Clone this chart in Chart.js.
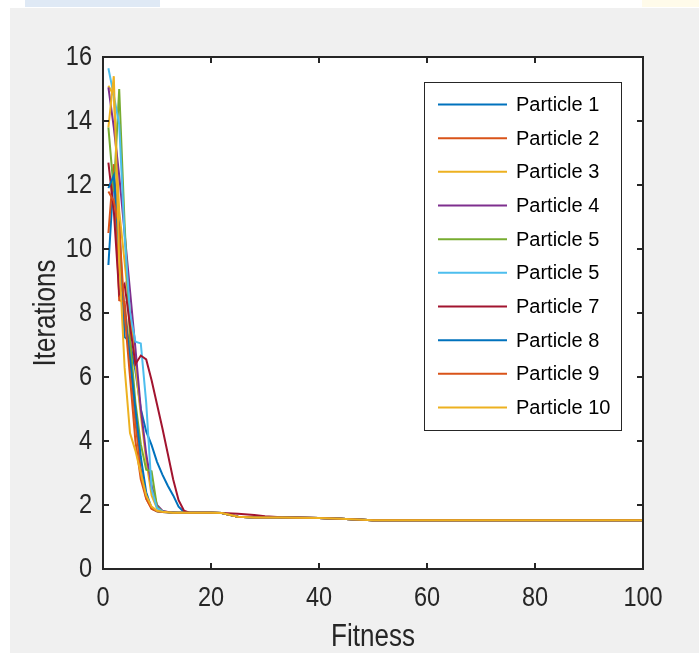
<!DOCTYPE html>
<html>
<head>
<meta charset="utf-8">
<script src="https://cdn.jsdelivr.net/npm/chart.js@4.4.1/dist/chart.umd.min.js"></script>
<style>
  html, body { margin:0; padding:0; background:#ffffff; width:699px; height:653px; overflow:hidden; }
  #bg { position:absolute; left:10px; top:8px; width:689px; height:645px; background:#f0f0f0; }
  #smudge1 { position:absolute; left:25px; top:0; width:135px; height:7px; background:#dfe9f5; }
  #smudge2 { position:absolute; left:642px; top:0; width:57px; height:7px; background:#fffbea; }
  #wrap { position:absolute; left:0; top:0; width:699px; height:653px; }
</style>
</head>
<body>
<div id="bg"></div>
<div id="smudge1"></div>
<div id="smudge2"></div>
<div id="wrap"><canvas id="c" width="699" height="653"></canvas></div>
<script>
// ---- data ----
const xValues = [1,2,3,4,5,6,7,8,9,10,11,12,13,14,15,16,18,20,22,25,28,30,33,36,40,44,47,50,60,70,80,90,100];
const tailCommon = [1.76,1.76,1.75,1.63,1.61,1.61,1.61,1.60,1.59,1.57,1.55,1.52,1.52,1.52,1.52,1.52,1.52];
const tailP7     = [1.76,1.76,1.75,1.73,1.69,1.65,1.62,1.61,1.59,1.57,1.55,1.52,1.52,1.52,1.52,1.52,1.52];
const p1Head  = [9.5,12.3,10.8,7.25,7.1,6.2,5.0,4.3,3.87,3.35,2.95,2.6,2.3,1.95,1.78,1.76];
const p2Head  = [10.5,12.65,8.4,8.35,6.6,4.6,3.1,2.2,1.88,1.8,1.78,1.77,1.76,1.76,1.76,1.76];
const p3Head  = [15.1,14.8,11.2,9.6,8.0,6.4,4.8,3.4,2.3,1.9,1.8,1.78,1.77,1.76,1.76,1.76];
const p4Head  = [15.05,13.8,12.3,10.5,8.7,6.9,5.0,3.6,2.6,2.0,1.82,1.78,1.77,1.76,1.76,1.76];
const p5Head  = [13.8,11.8,15.0,10.8,7.2,5.2,3.9,3.1,3.05,1.95,1.8,1.77,1.76,1.76,1.76,1.76];
const p6Head  = [15.65,14.8,13.9,10.4,8.0,7.1,7.05,5.2,2.5,1.9,1.8,1.77,1.76,1.76,1.76,1.76];
const p7Head  = [12.7,11.2,8.6,8.9,7.6,6.4,6.67,6.55,5.9,5.15,4.4,3.6,2.8,2.15,1.82,1.76];
const p8Head  = [11.9,12.3,10.0,8.0,6.6,5.0,3.5,2.4,1.9,1.8,1.78,1.77,1.76,1.76,1.76,1.76];
const p9Head  = [11.8,11.5,10.7,8.0,6.0,4.0,2.8,2.2,1.88,1.8,1.78,1.77,1.76,1.76,1.76,1.76];
const p10Head = [13.8,15.4,9.7,6.3,4.25,3.7,3.0,2.3,1.95,1.82,1.79,1.77,1.76,1.76,1.76,1.76];
const seriesLabels = ['Particle 1','Particle 2','Particle 3','Particle 4','Particle 5','Particle 5','Particle 7','Particle 8','Particle 9','Particle 10'];
const seriesColors = ['#0072BD','#D95319','#EDB120','#7E2F8E','#77AC30','#4DBEEE','#A2142F','#0072BD','#D95319','#EDB120'];
const xTicks = [0,20,40,60,80,100];
const yTicks = [0,2,4,6,8,10,12,14,16];
const xTitle = 'Fitness';
const yTitle = 'Iterations';
// ---------------

const heads = [p1Head,p2Head,p3Head,p4Head,p5Head,p6Head,p7Head,p8Head,p9Head,p10Head];
const datasets = heads.map((h, i) => {
  const vals = h.concat(i === 6 ? tailP7 : tailCommon);
  return {
    label: seriesLabels[i],
    data: xValues.map((x, k) => ({ x: x, y: vals[k] })),
    borderColor: seriesColors[i],
    backgroundColor: seriesColors[i],
    borderWidth: 2,
    pointRadius: 0,
    tension: 0,
    fill: false,
    order: heads.length - i   // later series drawn on top, as in MATLAB
  };
});
const AX = '#262626';
const FAMILY = "'Liberation Sans', Arial, sans-serif";
const SQUEEZE = 0.84;

function squeezedText(ctx, text, x, y, size, align, rot) {
  ctx.save();
  ctx.translate(x, y);
  if (rot) ctx.rotate(rot);
  ctx.scale(SQUEEZE, 1);
  ctx.font = size + 'px ' + FAMILY;
  ctx.textAlign = align;
  ctx.textBaseline = 'middle';
  ctx.fillStyle = AX;
  ctx.fillText(text, 0, 0);
  ctx.restore();
}

const framePlugin = {
  id: 'frame',
  beforeDraw(chart) {
    const a = chart.chartArea, ctx = chart.ctx;
    ctx.save();
    ctx.fillStyle = '#ffffff';
    ctx.fillRect(a.left, a.top, a.right - a.left, a.bottom - a.top);
    ctx.restore();
  },
  afterDatasetsDraw(chart) {
    const a = chart.chartArea, ctx = chart.ctx;
    const xs = chart.scales.x, ys = chart.scales.y;
    ctx.save();
    ctx.strokeStyle = AX;
    ctx.lineWidth = 2;
    ctx.strokeRect(a.left, a.top, a.right - a.left, a.bottom - a.top);
    const L = 6;
    ctx.beginPath();
    xTicks.forEach(v => {
      const px = Math.round(xs.getPixelForValue(v));
      ctx.moveTo(px, a.bottom); ctx.lineTo(px, a.bottom - L);
      ctx.moveTo(px, a.top); ctx.lineTo(px, a.top + L);
    });
    yTicks.forEach(v => {
      const py = Math.round(ys.getPixelForValue(v));
      ctx.moveTo(a.left, py); ctx.lineTo(a.left + L, py);
      ctx.moveTo(a.right, py); ctx.lineTo(a.right - L, py);
    });
    ctx.stroke();
    ctx.restore();

    // tick labels and titles (condensed like the MATLAB export)
    xTicks.forEach(v => squeezedText(ctx, String(v), xs.getPixelForValue(v), 598, 28, 'center'));
    yTicks.forEach(v => squeezedText(ctx, String(v), 92, ys.getPixelForValue(v), 28, 'right'));
    squeezedText(ctx, xTitle, (a.left + a.right) / 2, 637, 31, 'center');
    squeezedText(ctx, yTitle, 46, (a.top + a.bottom) / 2, 31, 'center', -Math.PI / 2);

    // legend
    ctx.save();
    const bx = 424.5, by = 82.5, bw = 197, bh = 348;
    ctx.fillStyle = '#ffffff';
    ctx.fillRect(bx, by, bw, bh);
    ctx.lineWidth = 1;
    ctx.strokeStyle = AX;
    ctx.strokeRect(bx, by, bw, bh);
    ctx.font = '20px ' + FAMILY;
    ctx.textBaseline = 'middle';
    ctx.textAlign = 'left';
    chart.data.datasets.forEach((ds, i) => {
      const cy = 104.5 + i * 33.67;
      ctx.strokeStyle = ds.borderColor;
      ctx.lineWidth = 2;
      ctx.beginPath();
      ctx.moveTo(438, cy); ctx.lineTo(507, cy);
      ctx.stroke();
      ctx.fillStyle = '#000000';
      ctx.fillText(ds.label, 516, cy + 1);
    });
    ctx.restore();
  }
};

new Chart(document.getElementById('c'), {
  type: 'line',
  data: { datasets: datasets },
  options: {
    responsive: false,
    animation: false,
    events: [],
    layout: { padding: { left: 0, top: 57, right: 56, bottom: 0 } },
    plugins: { legend: { display: false }, tooltip: { enabled: false } },
    scales: {
      x: {
        type: 'linear', min: 0, max: 100,
        afterBuildTicks: s => { s.ticks = xTicks.map(v => ({ value: v })); },
        afterFit: s => { s.height = 84; },
        grid: { display: false, drawTicks: false },
        border: { display: false },
        ticks: { display: false }
      },
      y: {
        type: 'linear', min: 0, max: 16,
        afterBuildTicks: s => { s.ticks = yTicks.map(v => ({ value: v })); },
        afterFit: s => { s.width = 103; },
        grid: { display: false, drawTicks: false },
        border: { display: false },
        ticks: { display: false }
      }
    }
  },
  plugins: [framePlugin]
});
</script>
</body>
</html>
